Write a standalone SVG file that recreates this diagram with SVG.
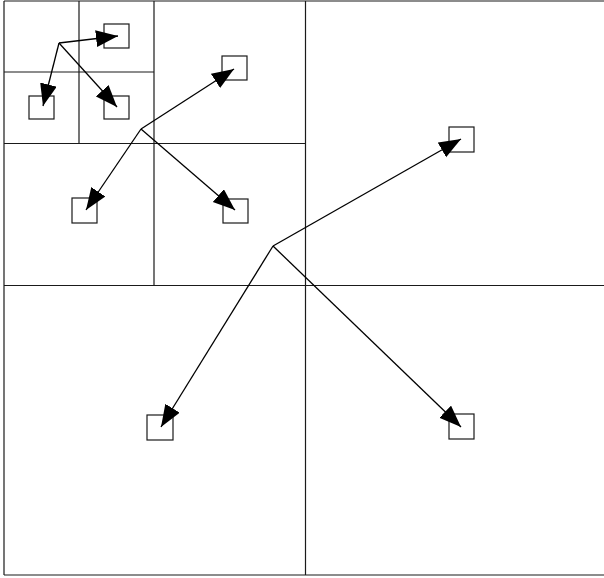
<svg xmlns="http://www.w3.org/2000/svg" width="604" height="578" viewBox="0 0 604 578">
  <style>
    .grid { stroke: #1a1a1a; stroke-width: 1.2; fill: none; }
    .box { fill: #ffffff; stroke: #1a1a1a; stroke-width: 1.2; }
    .arrow { stroke: #000000; stroke-width: 1.3; fill: none; marker-end: url(#head); }
  </style>
  <defs>
    <marker id="head" markerUnits="userSpaceOnUse" markerWidth="23" markerHeight="18" refX="22" refY="8.5" orient="auto">
      <path d="M0,0 L22,8.5 L0,17 z" fill="#000000"/>
    </marker>
  </defs>
  <rect width="604" height="578" fill="#ffffff"/>
  <g id="grid">
    <line class="grid" x1="4" y1="1" x2="604" y2="1"/>
    <line class="grid" x1="4" y1="1" x2="4" y2="575"/>
    <line class="grid" x1="4" y1="575" x2="604" y2="575"/>
    <line class="grid" x1="4" y1="285.5" x2="604" y2="285.5"/>
    <line class="grid" x1="305.5" y1="1" x2="305.5" y2="575"/>
    <line class="grid" x1="4" y1="143.5" x2="305.5" y2="143.5"/>
    <line class="grid" x1="154" y1="1" x2="154" y2="285.5"/>
    <line class="grid" x1="4" y1="72" x2="154" y2="72"/>
    <line class="grid" x1="79" y1="1" x2="79" y2="143.5"/>
  </g>
  <g id="box-a"><rect class="box" x="104" y="24" width="25" height="24"/></g>
  <g id="box-b"><rect class="box" x="29" y="96" width="25" height="23"/></g>
  <g id="box-c"><rect class="box" x="104" y="96" width="25" height="23"/></g>
  <g id="box-d"><rect class="box" x="222" y="56" width="25" height="24"/></g>
  <g id="box-e"><rect class="box" x="72" y="198" width="25" height="25"/></g>
  <g id="box-f"><rect class="box" x="223" y="199" width="25" height="24"/></g>
  <g id="box-g"><rect class="box" x="449" y="127" width="25" height="25"/></g>
  <g id="box-h"><rect class="box" x="147" y="415" width="26" height="25"/></g>
  <g id="box-i"><rect class="box" x="449" y="414" width="25" height="25"/></g>
  <g id="connectors">
    <line class="arrow" x1="59" y1="43" x2="118" y2="36"/>
    <line class="arrow" x1="59" y1="43" x2="43" y2="106"/>
    <line class="arrow" x1="59" y1="43" x2="117" y2="107"/>
    <line class="arrow" x1="141" y1="129" x2="234" y2="69"/>
    <line class="arrow" x1="141" y1="129" x2="86" y2="210"/>
    <line class="arrow" x1="141" y1="129" x2="235" y2="210"/>
    <line class="arrow" x1="273" y1="246" x2="461" y2="139"/>
    <line class="arrow" x1="273" y1="246" x2="161" y2="427"/>
    <line class="arrow" x1="273" y1="246" x2="461" y2="427"/>
  </g>
</svg>
